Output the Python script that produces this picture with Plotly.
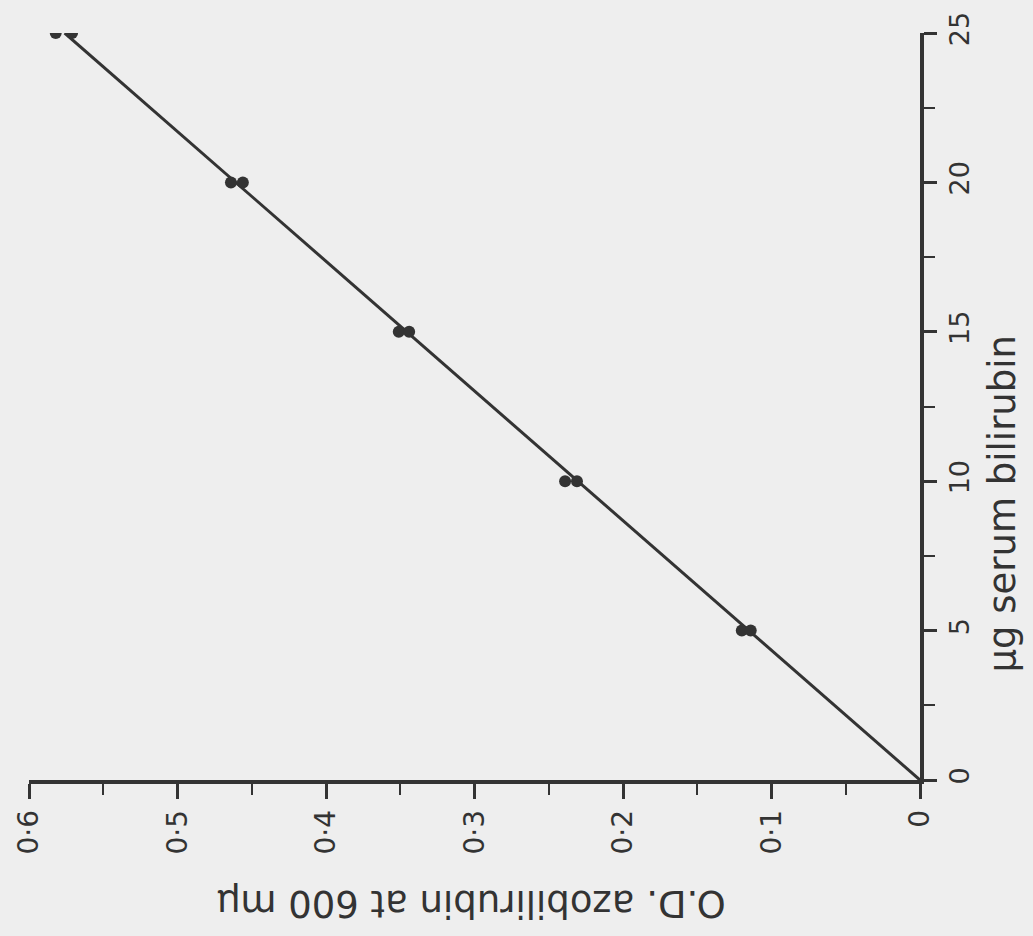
import plotly.graph_objects as go

# Data
bilirubin = [5, 10, 15, 20, 25]
od_a = [0.120, 0.239, 0.351, 0.464, 0.582]
od_b = [0.114, 0.231, 0.344, 0.456, 0.571]
fit_bilirubin = [0, 25]
fit_od = [0, 0.576]

od_ticks = [0, 0.1, 0.2, 0.3, 0.4, 0.5, 0.6]
od_ticktext = ["0", "0·1", "0·2", "0·3", "0·4", "0·5", "0·6"]
bili_ticks = [0, 5, 10, 15, 20, 25]
bili_ticktext = ["0", "5", "10", "15", "20", "25"]

ink = "#333333"
font_family = "DejaVu Sans, sans-serif"

fig = go.Figure()
fig.add_trace(go.Scatter(x=fit_od, y=fit_bilirubin, mode="lines",
                         line=dict(color=ink, width=3), showlegend=False,
                         hoverinfo="skip"))
fig.add_trace(go.Scatter(x=od_a, y=bilirubin, mode="markers",
                         marker=dict(color=ink, size=12), showlegend=False))
fig.add_trace(go.Scatter(x=od_b, y=bilirubin, mode="markers",
                         marker=dict(color=ink, size=12), showlegend=False))

fig.update_layout(
    width=1033, height=936,
    margin=dict(l=23, r=113, t=24, b=156),
    paper_bgcolor="#eeeeee", plot_bgcolor="#eeeeee",
    font=dict(family=font_family, color=ink),
    xaxis=dict(range=[0.6, 0], showgrid=False, zeroline=False,
               showline=True, linecolor=ink, linewidth=3.5,
               ticks="outside", ticklen=15, tickwidth=2.5, tickcolor=ink,
               tickvals=od_ticks, ticktext=od_ticktext, tickangle=-90,
               tickfont=dict(size=28, color=ink),
               minor=dict(dtick=0.05, tick0=0, ticks="outside", ticklen=11,
                          tickwidth=2, tickcolor=ink, showgrid=False)),
    yaxis=dict(range=[0, 25], side="right", showgrid=False, zeroline=False,
               showline=True, linecolor=ink, linewidth=3.5,
               ticks="outside", ticklen=13, tickwidth=2.5, tickcolor=ink,
               tickvals=bili_ticks, ticktext=bili_ticktext, tickangle=-90,
               tickfont=dict(size=27, color=ink),
               minor=dict(dtick=2.5, tick0=0, ticks="outside", ticklen=11,
                          tickwidth=2, tickcolor=ink, showgrid=False)),
    annotations=[
        dict(text="O.D. azobilirubin at 600 mμ", xref="paper", yref="paper",
             x=0.496, y=-0.166, textangle=180, showarrow=False,
             xanchor="center", yanchor="middle",
             font=dict(size=37, color=ink, family=font_family)),
        dict(text="μg serum bilirubin", xref="paper", yref="paper",
             x=1.093, y=0.37, textangle=-90, showarrow=False,
             xanchor="center", yanchor="middle",
             font=dict(size=37, color=ink, family=font_family)),
    ],
)

fig.write_html("out.html")
